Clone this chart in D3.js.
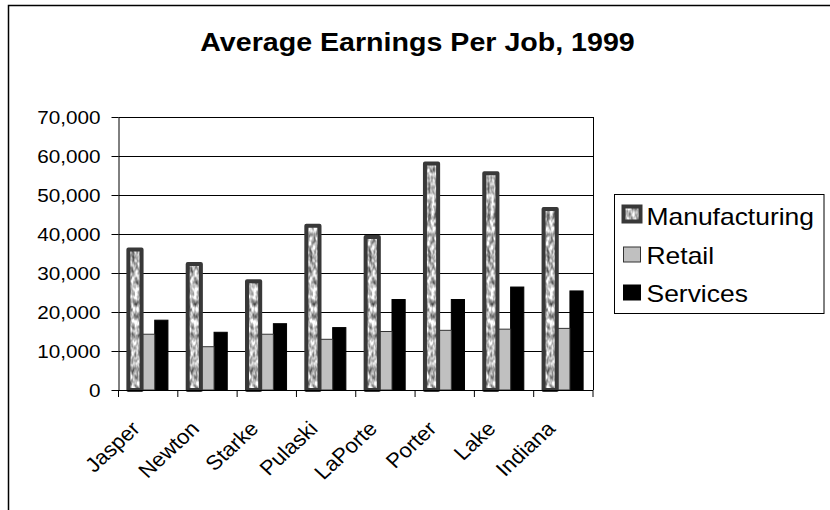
<!DOCTYPE html>
<html>
<head>
<meta charset="utf-8">
<script src="https://cdn.jsdelivr.net/npm/d3@7"></script>
<style>
  html, body { margin: 0; padding: 0; background: #fff; }
  svg { display: block; }
  svg text { font-family: "Liberation Sans", Arial, sans-serif; }
</style>
</head>
<body>
<svg id="chart" width="830" height="510"></svg>
<script>
const title = "Average Earnings Per Job, 1999";
const categories = ["Jasper", "Newton", "Starke", "Pulaski", "LaPorte", "Porter", "Lake", "Indiana"];
const seriesNames = ["Manufacturing", "Retail", "Services"];
const manufacturing = [36000, 32300, 27900, 42100, 39200, 58100, 55600, 46400];
const retail = [14300, 11100, 14300, 13000, 15000, 15300, 15600, 15800];
const services = [17900, 14800, 17000, 16000, 23200, 23200, 26400, 25400];
const yTicks = [0, 10000, 20000, 30000, 40000, 50000, 60000, 70000];

const seriesValues = { "Manufacturing": manufacturing, "Retail": retail, "Services": services };
const SX = 1.15; // horizontal stretch of the original image's text
const FONT = "'Liberation Sans', Arial, sans-serif";

const svg = d3.select("#chart");

// filter for mottled texture
const defs = svg.append("defs");
const f = defs.append("filter").attr("id", "mottle")
  .attr("x", 0).attr("y", 0).attr("width", 1).attr("height", 1)
  .attr("color-interpolation-filters", "sRGB");
f.append("feTurbulence").attr("type", "fractalNoise").attr("baseFrequency", "0.3 0.15")
  .attr("numOctaves", 2).attr("seed", 3).attr("result", "noise");
f.append("feColorMatrix").attr("in", "noise").attr("type", "matrix")
  .attr("values", "1.3 0 0 0 0.08  1.3 0 0 0 0.08  1.3 0 0 0 0.08  0 0 0 0 1")
  .attr("result", "gray");
f.append("feComposite").attr("in", "gray").attr("in2", "SourceAlpha").attr("operator", "in");

// outer chart border
svg.append("rect").attr("x", 8.5).attr("y", 5.5).attr("width", 900).attr("height", 600)
  .attr("fill", "none").attr("stroke", "#000").attr("stroke-width", 1.5);

// title
svg.append("g").attr("transform", `translate(417.5,51) scale(1.1,1)`)
  .append("text").attr("text-anchor", "middle").attr("font-weight", "bold")
  .attr("font-family", FONT).attr("font-size", 26).attr("fill", "#000").text(title);

const x = d3.scaleBand().domain(categories).range([118.5, 593]).paddingInner(0).paddingOuter(0);
const x1 = d3.scaleBand().domain(seriesNames).range([0, x.bandwidth()]).paddingInner(0).paddingOuter(0.75);
const y = d3.scaleLinear().domain([0, 70000]).range([390, 117]);

// gridlines
svg.append("g").selectAll("line").data(yTicks).join("line")
  .attr("x1", 118.5).attr("x2", 593).attr("y1", d => Math.round(y(d)) + 0.5).attr("y2", d => Math.round(y(d)) + 0.5)
  .attr("stroke", "#000").attr("stroke-width", 1);
// plot right border
svg.append("line").attr("x1", 593.5).attr("x2", 593.5).attr("y1", y(70000)).attr("y2", y(0))
  .attr("stroke", "#000");

// y axis
const yAxis = svg.append("g").attr("transform", "translate(118.5,0)")
  .call(d3.axisLeft(y).tickValues(yTicks).tickFormat(d3.format(",")).tickSize(7).tickSizeOuter(0));
yAxis.attr("font-family", FONT);
yAxis.select(".domain").attr("stroke", "#000");
yAxis.selectAll(".tick line").attr("stroke", "#000");
yAxis.selectAll(".tick text")
  .attr("x", 0).attr("dy", "0.35em").attr("text-anchor", "end")
  .attr("transform", `translate(-18,0) scale(${SX},1)`)
  .attr("font-size", 18).attr("font-family", FONT).attr("fill", "#000");

// bars
const groups = svg.append("g").selectAll("g").data(categories).join("g")
  .attr("transform", d => `translate(${x(d)},0)`);

function bars(name, fill, stroke, sw) {
  const vals = seriesValues[name];
  return groups.append("rect")
    .attr("x", x1(name)).attr("width", x1.bandwidth())
    .attr("y", (d, i) => y(vals[i])).attr("height", (d, i) => y(0) - y(vals[i]))
    .attr("fill", fill).attr("stroke", stroke).attr("stroke-width", sw);
}
bars("Services", "#000", "#000", 1);
bars("Retail", "#c0c0c0", "#333", 1);
// manufacturing: texture + thick border
bars("Manufacturing", "#bbb", "none", 0).attr("filter", "url(#mottle)");
bars("Manufacturing", "none", "#383838", 4).attr("stroke-linejoin", "round");

// x axis line and ticks
const xAx = svg.append("g");
xAx.append("line").attr("x1", 118.5).attr("x2", 593).attr("y1", 390.5).attr("y2", 390.5).attr("stroke", "#000");
xAx.selectAll("line.tk").data(categories.concat(["__end"])).join("line").attr("class", "tk")
  .attr("x1", (d, i) => (i < categories.length ? x(d) : x.range()[1]))
  .attr("x2", (d, i) => (i < categories.length ? x(d) : x.range()[1]))
  .attr("y1", 390).attr("y2", 397).attr("stroke", "#000");
xAx.selectAll("g.lbl").data(categories).join("g").attr("class", "lbl")
  .attr("transform", d => `translate(${x(d) + x.bandwidth() / 2 - 7},430) scale(1.08,1) rotate(-45)`)
  .append("text").attr("text-anchor", "end").attr("font-family", FONT).attr("font-size", 20.5).attr("fill", "#000").text(d => d);

// legend
const lg = svg.append("g");
lg.append("rect").attr("x", 614.5).attr("y", 194.5).attr("width", 209.5).attr("height", 119)
  .attr("fill", "#fff").attr("stroke", "#000").attr("stroke-width", 1);
const baselines = [225, 263.5, 301.5];
const items = lg.selectAll("g.it").data(seriesNames).join("g").attr("class", "it")
  .attr("transform", (d, i) => `translate(0,${baselines[i]})`);
items.each(function (d) {
  const g = d3.select(this);
  if (d === "Manufacturing") {
    g.append("rect").attr("x", 623.5).attr("y", -18.5).attr("width", 17).attr("height", 15)
      .attr("fill", "#bbb").attr("filter", "url(#mottle)");
    g.append("rect").attr("x", 623.5).attr("y", -18.5).attr("width", 17).attr("height", 15)
      .attr("fill", "none").attr("stroke", "#383838").attr("stroke-width", 4);
  } else {
    g.append("rect").attr("x", 623.5).attr("y", -16.5).attr("width", 17).attr("height", 15)
      .attr("fill", d === "Retail" ? "#c0c0c0" : "#000").attr("stroke", d === "Retail" ? "#333" : "#000").attr("stroke-width", 1);
  }
  g.append("g").attr("transform", `translate(646.5,0) scale(${SX},1)`)
    .append("text").attr("font-family", FONT).attr("font-size", 23).attr("fill", "#000").text(d);
});
</script>
</body>
</html>
